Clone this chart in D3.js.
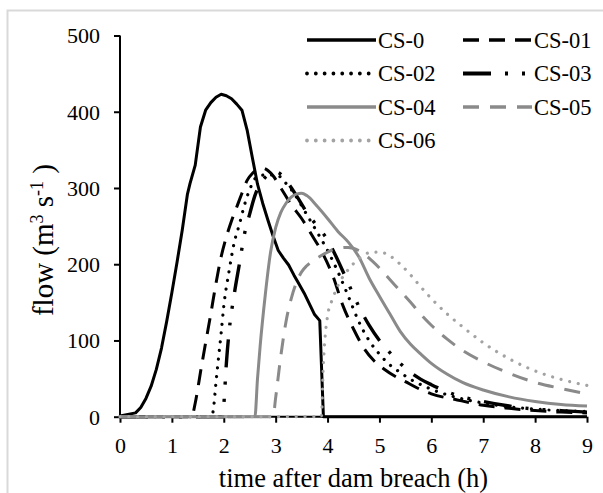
<!DOCTYPE html>
<html>
<head>
<meta charset="utf-8">
<script src="https://cdn.jsdelivr.net/npm/d3@7"></script>
<style>
  html, body { margin: 0; padding: 0; background: #fff; }
  svg { display: block; }
  text { font-family: "Liberation Serif", "DejaVu Serif", "Noto Serif", serif; }
</style>
</head>
<body>
<svg id="chart" width="603" height="493"></svg>
<script>
// ---------------- data ----------------
const xTicks = [0, 1, 2, 3, 4, 5, 6, 7, 8, 9];
const yTicks = [0, 100, 200, 300, 400, 500];
const seriesNames = ["CS-0", "CS-01", "CS-02", "CS-03", "CS-04", "CS-05", "CS-06"];

const cs0_t = [0, 0.3, 0.4, 0.5, 0.6, 0.7, 0.8, 0.9, 1.0, 1.1, 1.2, 1.3, 1.35, 1.45, 1.55, 1.65, 1.75, 1.85, 1.95, 2.05, 2.15, 2.25, 2.35, 2.45, 2.55, 2.65, 2.75, 2.85, 2.95, 3.05, 3.15, 3.25, 3.35, 3.45, 3.55, 3.65, 3.75, 3.85, 3.92, 9];
const cs0_q = [1, 5, 12, 24, 40, 62, 90, 125, 163, 203, 245, 292, 306, 330, 380, 402, 412, 419, 423, 421, 417, 410, 402, 376, 340, 305, 280, 258, 237, 218, 208, 199, 186, 174, 162, 148, 134, 126, 0, 0];

const cs01_t = [0, 1.38, 1.45, 1.55, 1.65, 1.75, 1.85, 1.95, 2.05, 2.15, 2.25, 2.35, 2.45, 2.55, 2.65, 2.75, 2.85, 2.95, 3.1, 3.3, 3.5, 3.7, 3.9, 4.1, 4.3, 4.5, 4.7, 4.9, 5.1, 5.3, 5.5, 5.75, 6.0, 6.5, 7.0, 7.5, 8.0, 8.5, 9.0];
const cs01_q = [0, 0, 18, 58, 97, 135, 175, 210, 236, 257, 275, 293, 310, 319, 324, 326, 323, 316, 300, 278, 260, 238, 215, 185, 145, 115, 90, 73, 62, 53, 46, 37, 30, 22, 15, 11, 8, 6, 5];

const cs02_t = [0, 1.77, 1.8, 1.85, 1.9, 1.95, 2.0, 2.1, 2.2, 2.3, 2.4, 2.5, 2.6, 2.7, 2.8, 2.9, 3.0, 3.1, 3.2, 3.3, 3.4, 3.6, 3.8, 4.0, 4.2, 4.4, 4.6, 4.8, 5.0, 5.2, 5.4, 5.6, 5.8, 6.0, 6.5, 7.0, 7.5, 8.0, 8.5, 9.0];
const cs02_q = [0, 0, 10, 45, 78, 110, 145, 190, 228, 252, 278, 298, 312, 316, 317, 317, 317, 314, 306, 298, 288, 265, 242, 218, 190, 158, 125, 100, 82, 68, 58, 49, 42, 36, 25, 18, 13, 10, 8, 7];

const cs03_t = [0, 1.98, 2.0, 2.05, 2.1, 2.2, 2.3, 2.4, 2.5, 2.6, 2.7, 2.8, 2.9, 3.0, 3.1, 3.2, 3.4, 3.6, 3.8, 4.0, 4.2, 4.4, 4.6, 4.8, 5.0, 5.2, 5.4, 5.6, 5.8, 6.0, 6.5, 7.0, 7.5, 8.0, 8.5, 9.0];
const cs03_q = [0, 0, 15, 70, 110, 160, 200, 240, 266, 290, 305, 314, 319, 321, 318, 310, 290, 268, 250, 232, 205, 175, 145, 120, 100, 84, 70, 58, 49, 42, 28, 20, 14, 10, 8, 6];

const cs04_t = [0, 2.6, 2.65, 2.7, 2.8, 2.9, 3.0, 3.1, 3.2, 3.3, 3.4, 3.5, 3.6, 3.8, 4.0, 4.2, 4.4, 4.6, 4.8, 5.0, 5.2, 5.4, 5.6, 5.8, 6.0, 6.3, 6.6, 7.0, 7.5, 8.0, 8.5, 9.0];
const cs04_q = [0, 0, 50, 92, 160, 215, 248, 268, 280, 288, 292, 293, 290, 276, 260, 243, 229, 210, 182, 158, 135, 112, 95, 82, 70, 56, 45, 35, 26, 20, 16, 14];

const cs05_t = [0, 2.95, 3.0, 3.1, 3.2, 3.3, 3.4, 3.5, 3.6, 3.8, 4.0, 4.2, 4.4, 4.6, 4.8, 5.0, 5.2, 5.4, 5.6, 5.8, 6.0, 6.3, 6.6, 7.0, 7.5, 8.0, 8.5, 9.0];
const cs05_q = [0, 0, 25, 80, 125, 155, 176, 190, 198, 208, 216, 221, 222, 218, 208, 195, 180, 165, 150, 134, 120, 102, 87, 72, 57, 45, 37, 30];

const cs06_t = [0, 3.88, 3.92, 3.96, 4.0, 4.1, 4.2, 4.4, 4.6, 4.8, 5.0, 5.2, 5.4, 5.6, 5.8, 6.0, 6.3, 6.6, 7.0, 7.5, 8.0, 8.5, 9.0];
const cs06_q = [0, 0, 70, 110, 132, 155, 172, 193, 207, 215, 216, 211, 200, 186, 170, 155, 135, 118, 97, 76, 60, 49, 41];

// ---------------- styles ----------------
const FONT = '"Liberation Serif", "DejaVu Serif", "Noto Serif", serif';
const styles = [
  { color: "#000000", width: 3,   dash: null,              cap: "butt",  curve: d3.curveLinear },
  { color: "#000000", width: 3,   dash: "16,10",           cap: "butt",  curve: d3.curveMonotoneX },
  { color: "#000000", width: 3.2, dash: "0.01,8.8",        cap: "round", curve: d3.curveMonotoneX },
  { color: "#000000", width: 3.4, dash: "28,14,3,14,3,14", cap: "butt",  curve: d3.curveMonotoneX },
  { color: "#8a8a8a", width: 3,   dash: null,              cap: "butt",  curve: d3.curveMonotoneX },
  { color: "#8a8a8a", width: 3,   dash: "16,11",           cap: "butt",  curve: d3.curveMonotoneX },
  { color: "#a3a3a3", width: 3.2, dash: "0.01,8.8",        cap: "round", curve: d3.curveMonotoneX }
];

const seriesT = [cs0_t, cs01_t, cs02_t, cs03_t, cs04_t, cs05_t, cs06_t];
const seriesQ = [cs0_q, cs01_q, cs02_q, cs03_q, cs04_q, cs05_q, cs06_q];

// ---------------- drawing ----------------
const svg = d3.select("#chart");

svg.append("rect")
  .attr("x", 7.5).attr("y", 10.5)
  .attr("width", 620).attr("height", 500)
  .attr("fill", "none").attr("stroke", "#d9d9d9").attr("stroke-width", 2);

const x = d3.scaleLinear().domain([0, 9]).range([120, 587]);
const y = d3.scaleLinear().domain([0, 500]).range([416.7, 35.5]);

const yAxis = svg.append("g")
  .attr("transform", `translate(${x(0)},0)`)
  .call(d3.axisLeft(y).tickValues(yTicks).tickSize(6).tickPadding(14).tickFormat(d3.format("d")))
  .attr("font-family", FONT).attr("font-size", 22);
yAxis.select(".domain").attr("stroke", "#000").attr("stroke-width", 2).attr("d", `M0,${y(500)}V${y(0)}`);
yAxis.selectAll(".tick line").attr("stroke", "#000").attr("stroke-width", 2);
yAxis.selectAll(".tick text").attr("fill", "#000").attr("dy", "0.34em");

const xAxis = svg.append("g")
  .attr("transform", `translate(0,${y(0)})`)
  .call(d3.axisBottom(x).tickValues(xTicks).tickSize(6).tickPadding(15).tickFormat(d3.format("d")))
  .attr("font-family", FONT).attr("font-size", 22);
xAxis.select(".domain").attr("stroke", "#000").attr("stroke-width", 2).attr("d", `M${x(0)},0H${x(9)}`);
xAxis.selectAll(".tick line").attr("stroke", "#000").attr("stroke-width", 2);
xAxis.selectAll(".tick text").attr("fill", "#000");

seriesNames.forEach((name, i) => {
  const data = seriesT[i].map((t, k) => [t, seriesQ[i][k]]);
  const st = styles[i];
  const line = d3.line().x(d => x(d[0])).y(d => y(d[1])).curve(st.curve);
  svg.append("path")
    .datum(data)
    .attr("d", line)
    .attr("fill", "none")
    .attr("stroke", st.color)
    .attr("stroke-width", st.width)
    .attr("stroke-linecap", st.cap)
    .attr("stroke-linejoin", "round")
    .attr("stroke-dasharray", st.dash);
});

const legendCols = [307, 463];
const legendRows = [40, 73.5, 107, 140.5];
seriesNames.forEach((name, i) => {
  const col = i % 2, row = Math.floor(i / 2);
  const x0 = legendCols[col], yy = legendRows[row];
  const st = styles[i];
  svg.append("line")
    .attr("x1", x0).attr("x2", x0 + 69).attr("y1", yy).attr("y2", yy)
    .attr("stroke", st.color).attr("stroke-width", st.width + 0.6)
    .attr("stroke-linecap", st.cap)
    .attr("stroke-dasharray", st.dash);
  svg.append("text")
    .attr("x", x0 + 71).attr("y", yy).attr("dy", "0.34em")
    .attr("font-family", FONT).attr("font-size", 22.5).attr("fill", "#000")
    .text(name);
});

svg.append("text")
  .attr("x", (x(0) + x(9)) / 2).attr("y", 487)
  .attr("text-anchor", "middle").attr("font-family", FONT).attr("font-size", 26.5).attr("fill", "#000")
  .text("time after dam breach (h)");

const yt = svg.append("text")
  .attr("transform", `translate(53,240) rotate(-90)`)
  .attr("text-anchor", "middle").attr("font-family", FONT).attr("font-size", 29).attr("fill", "#000");
yt.append("tspan").text("flow (m");
yt.append("tspan").attr("font-size", 18).attr("baseline-shift", "10").text("3");
yt.append("tspan").text(" s");
yt.append("tspan").attr("font-size", 18).attr("baseline-shift", "10").text("-1");
yt.append("tspan").text(" )");
</script>
</body>
</html>
